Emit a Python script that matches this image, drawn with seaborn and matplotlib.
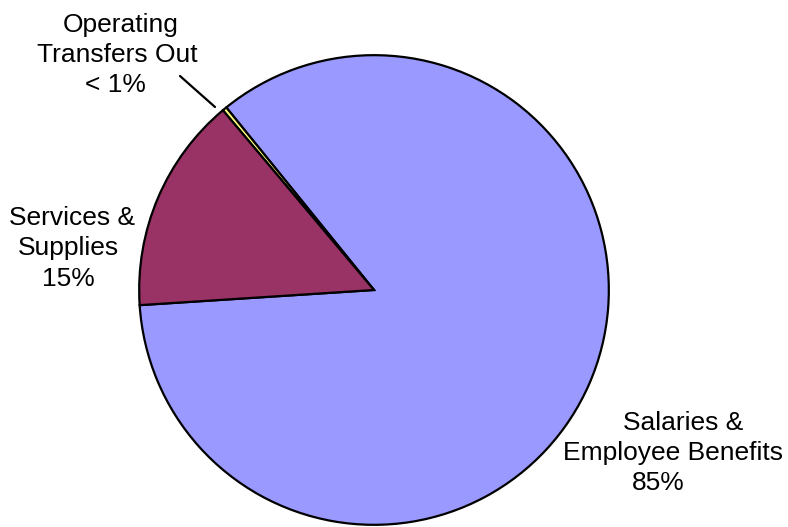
import numpy as np
import matplotlib
matplotlib.use("Agg")
import matplotlib.pyplot as plt
from matplotlib import font_manager
import seaborn as sns

# Expenditure shares (percent)
categories = ["Salaries &\nEmployee Benefits", "Operating\nTransfers Out", "Services &\nSupplies"]
shares = [84.8, 0.3, 14.9]
colors = ["#9999FF", "#FFFF80", "#993366"]

sns.set_theme(style="white")
plt.rcParams["font.family"] = ["Liberation Sans", "DejaVu Sans"]

# pick the regular-width Liberation Sans face (not the Narrow variant)
label_font = None
for f in font_manager.fontManager.ttflist:
    if f.name == "Liberation Sans" and "narrow" not in f.fname.lower() \
            and f.style == "normal" and f.weight in (400, "normal", "regular"):
        label_font = font_manager.FontProperties(fname=f.fname)
        break
if label_font is None:
    label_font = font_manager.FontProperties(family=["Liberation Sans", "DejaVu Sans"])
label_font.set_size(19)

W, H = 788, 527
fig = plt.figure(figsize=(W / 100, H / 100), dpi=100)
fig.patch.set_facecolor("white")

# pie centre and radius in pixels
cx, cy, r = 374, 290, 236
ax = fig.add_axes([(cx - r) / W, (H - cy - r) / H, 2 * r / W, 2 * r / H])
ax.set_axis_off()

wedges, _ = ax.pie(shares, colors=colors, startangle=183.7, counterclock=True,
                   radius=1.0, center=(0, 0),
                   wedgeprops=dict(edgecolor="black", linewidth=1.6))
ax.set_xlim(-1.005, 1.005)
ax.set_ylim(-1.005, 1.005)


def pct_text(v):
    return "< 1%" if v < 1 else f"{round(v):.0f}%"


# per-line placement: (x centre, baseline y) in pixels from the top-left
line_pos = {
    0: [(683, 430), (673, 460), (658, 490)],
    1: [(121, 32), (117, 62), (115, 92)],
    2: [(72, 225), (68, 255), (68, 286)],
}
for i, (cat, v) in enumerate(zip(categories, shares)):
    lines = cat.split("\n") + [pct_text(v)]
    for text, (x, y) in zip(lines, line_pos[i]):
        fig.text(x / W, 1 - y / H, text, ha="center", va="baseline",
                 fontproperties=label_font, color="black")

# leader line to the small slice
fig.add_artist(plt.Line2D([180 / W, 215 / W], [1 - 76 / H, 1 - 107 / H],
                          color="black", linewidth=1.6))

fig.savefig("out.png", dpi=100)
